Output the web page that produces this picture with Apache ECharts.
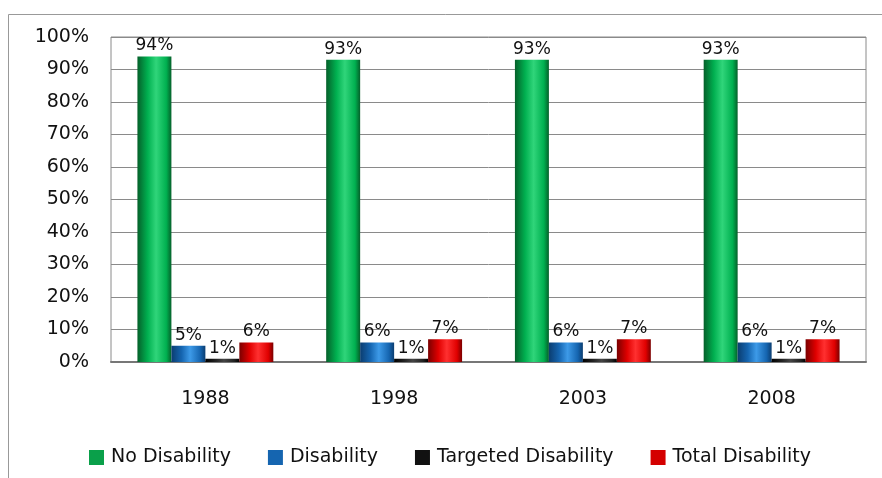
<!DOCTYPE html>
<html><head><meta charset="utf-8">
<script src="https://cdn.jsdelivr.net/npm/echarts@6/dist/echarts.min.js"></script>
<style>html,body{margin:0;padding:0;background:#fff}#c{width:882px;height:478px}</style>
</head><body><div id="c"></div>
<script>
const categories = ['1988', '1998', '2003', '2008'];
const noDisability = [94, 93, 93, 93];
const disability = [5, 6, 6, 6];
const targetedDisability = [1, 1, 1, 1];
const totalDisability = [6, 7, 7, 7];
const yTicks = [0, 10, 20, 30, 40, 50, 60, 70, 80, 90, 100];

function grad(dark, mid, light) {
  return new echarts.graphic.LinearGradient(0, 0, 1, 0, [
    {offset: 0, color: dark}, {offset: 0.3, color: mid}, {offset: 0.55, color: light},
    {offset: 0.85, color: mid}, {offset: 1, color: dark}
  ]);
}
const FONT = 'DejaVu Sans';
function mk(name, data, colorGrad) {
  return {
    name, type: 'bar', data, barGap: '0%', barCategoryGap: '28%',
    itemStyle: {color: colorGrad},
    label: {show: true, position: 'top', formatter: '{c}%', color: '#111', fontFamily: FONT, fontSize: 17, distance: 2}
  };
}
const chart = echarts.init(document.getElementById('c'));
chart.setOption({
  animation: false,
  graphic: [{type: 'rect', shape: {x: 8.5, y: 14.5, width: 900, height: 500}, style: {fill: 'none', stroke: '#999', lineWidth: 1}, silent: true}],
  grid: {left: 111, right: 16, top: 37, bottom: 116, show: true, borderColor: '#8a8a8a', borderWidth: 1},
  legend: {
    left: 84, top: 443, itemWidth: 15, itemHeight: 15, itemGap: 37,
    textStyle: {fontFamily: FONT, fontSize: 19, color: '#111', padding: [0, 0, 0, 2]},
    data: [
      {name: 'No Disability', icon: 'rect', itemStyle: {color: '#0aa04a'}},
      {name: 'Disability', icon: 'rect', itemStyle: {color: '#1565b0'}},
      {name: 'Targeted Disability', icon: 'rect', itemStyle: {color: '#111'}},
      {name: 'Total Disability', icon: 'rect', itemStyle: {color: '#d40000'}}
    ]
  },
  xAxis: {
    type: 'category', data: categories,
    axisLine: {show: true, lineStyle: {color: '#777', width: 2}},
    axisTick: {show: false},
    axisLabel: {fontFamily: FONT, fontSize: 19, color: '#111', margin: 28}
  },
  yAxis: {
    type: 'value', min: 0, max: 100, interval: 10,
    axisLine: {show: false}, axisTick: {show: false},
    splitLine: {lineStyle: {color: '#8a8a8a', width: 1}},
    axisLabel: {fontFamily: FONT, fontSize: 19, color: '#111', margin: 22,
      formatter: v => yTicks.includes(v) ? v + '%' : ''}
  },
  series: [
    mk('No Disability', noDisability, grad('#05602a', '#00b050', '#30d57a')),
    mk('Disability', disability, grad('#0b3d70', '#1565b0', '#3d9ae8')),
    mk('Targeted Disability', targetedDisability, grad('#000', '#222', '#444')),
    mk('Total Disability', totalDisability, grad('#7a0000', '#e00000', '#ff3030'))
  ]
});
</script></body></html>
